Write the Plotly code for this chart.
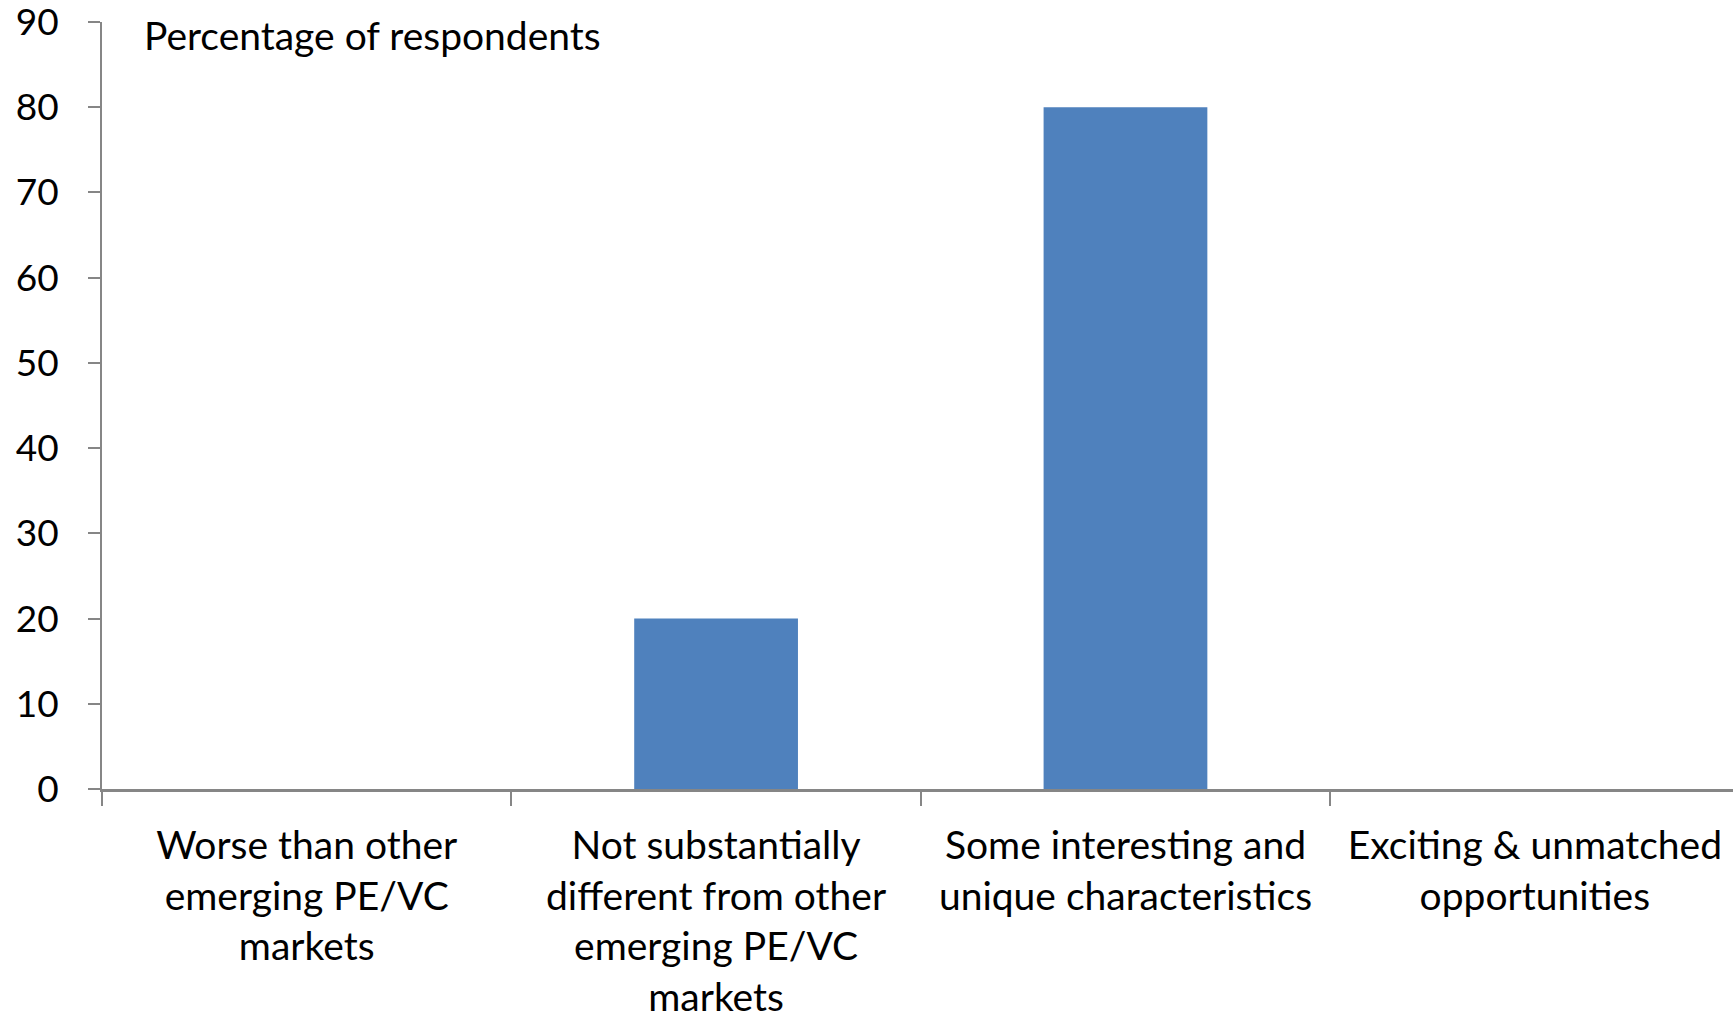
import plotly.graph_objects as go

categories = [
    "Worse than other<br>emerging PE/VC<br>markets",
    "Not substantially<br>different from other<br>emerging PE/VC<br>markets",
    "Some interesting and<br>unique characteristics",
    "Exciting & unmatched<br>opportunities",
]
values = [0, 20, 80, 0]
y_ticks = [0, 10, 20, 30, 40, 50, 60, 70, 80, 90]
y_title = "Percentage of respondents"

FONT = "Lato"
FS = 39
AXIS_COLOR = "#868686"

fig = go.Figure(
    go.Bar(
        x=categories,
        y=values,
        marker=dict(color="#4F81BD", line=dict(width=0)),
        width=0.4,
        hoverinfo="skip",
    )
)

fig.update_layout(
    width=1733,
    height=1019,
    paper_bgcolor="white",
    plot_bgcolor="white",
    margin=dict(l=102, r=0, t=22, b=230),
    showlegend=False,
    font=dict(family=FONT, size=FS, color="black"),
)

fig.update_xaxes(
    range=[-0.5, 3.484],
    automargin=False,
    showline=True,
    linecolor=AXIS_COLOR,
    linewidth=3,
    ticks="outside",
    tickson="boundaries",
    ticklen=14,
    tickwidth=2,
    tickcolor=AXIS_COLOR,
    showgrid=False,
    tickfont=dict(family=FONT, size=FS, color="black"),
    tickangle=0,
    ticklabelstandoff=20,
    ticklabeloverflow="allow",
)

fig.update_yaxes(
    range=[0, 90],
    automargin=False,
    tickvals=y_ticks,
    showline=True,
    linecolor=AXIS_COLOR,
    linewidth=2,
    ticks="outside",
    ticklen=12,
    tickwidth=2,
    tickcolor=AXIS_COLOR,
    showgrid=False,
    zeroline=False,
    tickfont=dict(family=FONT, size=37, color="black"),
    ticklabelstandoff=22,
    ticklabeloverflow="allow",
)

fig.add_annotation(
    text=y_title,
    xref="paper", yref="paper",
    x=(142 - 102) / (1733 - 102), y=1.0,
    xanchor="left", yanchor="middle",
    yshift=-13,
    showarrow=False,
    font=dict(family=FONT, size=FS, color="black"),
)

fig.write_html(
    "out.html",
    config={"displayModeBar": False},
    post_script="document.body.style.margin='0';document.body.style.overflow='hidden';",
)
